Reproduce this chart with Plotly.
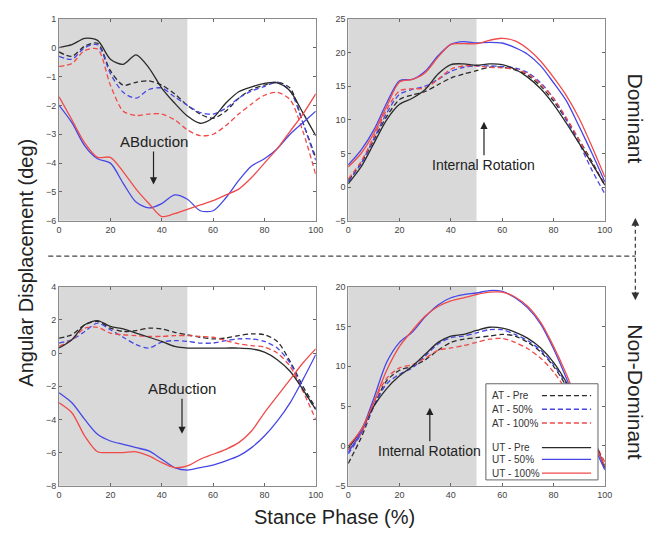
import plotly.graph_objects as go

# ---------------- data ----------------
X = [0, 5, 10, 15, 20, 25, 30, 35, 40, 45, 50, 55, 60, 65, 70, 75, 80, 85, 90, 95, 100]
SERIES = ["AT - Pre", "AT - 50%", "AT - 100%", "UT - Pre", "UT - 50%", "UT - 100%"]

# Dominant - abduction (top-left)
dom_abd_at_pre = [-0.15, -0.3, 0.05, 0.15, -0.8, -1.3, -1.2, -1.15, -1.3, -1.6, -2.0, -2.3, -2.45, -2.2, -1.75, -1.45, -1.3, -1.2, -1.4, -2.6, -3.8]
dom_abd_at_50 = [-0.3, -0.4, 0.0, 0.1, -0.9, -1.55, -1.75, -1.45, -1.4, -1.7, -2.0, -2.25, -2.3, -2.1, -1.75, -1.5, -1.35, -1.2, -1.5, -2.6, -3.9]
dom_abd_at_100 = [-0.65, -0.55, -0.1, -0.05, -1.3, -2.2, -2.35, -2.3, -2.3, -2.5, -2.85, -3.05, -3.0, -2.7, -2.3, -1.95, -1.65, -1.55, -1.8, -2.9, -4.4]
dom_abd_ut_pre = [0.0, 0.1, 0.32, 0.25, -0.4, -0.58, -0.25, -0.7, -1.4, -1.92, -2.37, -2.62, -2.43, -1.92, -1.53, -1.36, -1.24, -1.22, -1.5, -2.26, -3.05]
dom_abd_ut_50 = [-2.0, -2.6, -3.4, -3.85, -4.0, -4.7, -5.35, -5.55, -5.4, -5.1, -5.25, -5.65, -5.65, -5.2, -4.6, -4.1, -3.85, -3.5, -3.0, -2.6, -2.2]
dom_abd_ut_100 = [-1.7, -2.5, -3.3, -3.8, -3.8, -4.3, -4.9, -5.4, -5.85, -5.75, -5.6, -5.45, -5.3, -5.1, -4.9, -4.5, -4.0, -3.5, -2.9, -2.3, -1.6]

# Dominant - internal rotation (top-right)
dom_rot_at_pre = [1.0, 3.5, 7.0, 10.5, 13.0, 13.7, 14.2, 15.2, 16.2, 16.8, 17.3, 17.8, 17.8, 17.4, 16.6, 15.0, 12.8, 10.0, 7.0, 3.8, 0.2]
dom_rot_at_50 = [0.8, 3.5, 7.2, 11.0, 13.8, 14.5, 15.0, 16.0, 17.2, 17.8, 18.0, 18.0, 17.9, 17.7, 17.0, 15.5, 13.2, 10.0, 6.5, 2.5, -1.0]
dom_rot_at_100 = [1.2, 3.8, 7.5, 11.5, 14.3, 14.6, 14.7, 16.0, 17.5, 18.0, 18.0, 17.8, 17.7, 17.5, 16.8, 15.3, 13.2, 10.3, 7.0, 3.5, 0.5]
dom_rot_ut_pre = [0.5, 3.0, 6.5, 10.0, 12.3, 13.2, 14.5, 16.8, 18.2, 18.3, 18.1, 18.3, 18.2, 17.5, 16.3, 14.6, 12.3, 9.5, 6.5, 3.5, 0.3]
dom_rot_ut_50 = [3.3, 5.5, 8.5, 12.5, 15.8, 16.0, 17.2, 19.5, 21.2, 21.6, 21.4, 21.5, 21.4, 20.7, 19.7, 18.0, 15.5, 12.8, 9.0, 5.0, 0.8]
dom_rot_ut_100 = [3.0, 5.0, 8.0, 12.0, 15.6, 16.0, 17.0, 19.3, 21.2, 21.3, 21.3, 21.8, 22.1, 21.7, 20.5, 18.7, 16.3, 13.6, 10.2, 6.0, 1.5]

# Non-dominant - abduction (bottom-left)
nd_abd_at_pre = [0.9, 1.1, 1.7, 1.9, 1.5, 1.3, 1.35, 1.5, 1.45, 1.25, 1.1, 0.95, 0.85, 0.9, 1.05, 1.15, 1.1, 0.7, -0.5, -2.0, -3.3]
nd_abd_at_50 = [0.6, 0.8, 1.3, 1.8, 1.4, 0.95, 0.5, 0.3, 0.65, 0.75, 0.7, 0.6, 0.6, 0.75, 0.85, 0.85, 0.7, 0.3, -0.6, -2.2, -3.4]
nd_abd_at_100 = [0.4, 0.8, 1.5, 1.55, 1.2, 1.1, 1.05, 1.0, 1.0, 1.05, 1.05, 1.0, 0.95, 0.75, 0.55, 0.45, 0.35, 0.0, -0.8, -2.3, -4.0]
nd_abd_ut_pre = [0.3, 0.8, 1.7, 1.95, 1.6, 1.45, 1.2, 0.95, 0.7, 0.4, 0.3, 0.3, 0.3, 0.3, 0.3, 0.25, 0.05, -0.4, -1.1, -2.2, -3.4]
nd_abd_ut_50 = [-2.4, -3.0, -4.0, -4.9, -5.3, -5.5, -5.7, -5.9, -6.4, -6.9, -7.05, -6.9, -6.75, -6.5, -6.2, -5.7, -5.0, -4.1, -3.0, -1.6, -0.1]
nd_abd_ut_100 = [-3.0, -3.6, -5.0, -5.95, -6.0, -6.0, -5.95, -6.2, -6.6, -6.9, -6.8, -6.4, -6.1, -5.8, -5.4, -4.7, -3.6, -2.6, -1.6, -0.6, 0.25]

# Non-dominant - internal rotation (bottom-right)
nd_rot_at_pre = [-2.2, 1.0, 5.0, 8.2, 9.5, 10.0, 10.8, 12.0, 13.0, 13.4, 13.6, 13.8, 14.0, 13.8, 13.0, 11.8, 10.0, 7.5, 4.5, 1.0, -2.5]
nd_rot_at_50 = [-1.0, 1.5, 5.0, 7.8, 9.0, 9.8, 11.3, 12.8, 13.6, 13.8, 14.2, 14.6, 14.6, 14.0, 13.2, 12.0, 10.2, 7.8, 4.8, 1.2, -2.8]
nd_rot_at_100 = [-0.5, 1.5, 5.5, 8.5, 9.8, 10.2, 11.0, 12.0, 12.3, 12.6, 13.0, 13.4, 13.5, 13.0, 12.2, 11.0, 9.3, 7.0, 4.2, 1.0, -2.0]
nd_rot_ut_pre = [-0.3, 2.0, 5.0, 7.2, 8.8, 10.0, 11.5, 13.0, 13.8, 14.0, 14.5, 14.9, 14.8, 14.3, 13.5, 12.3, 10.5, 8.0, 5.0, 1.5, -2.8]
nd_rot_ut_50 = [-0.8, 1.8, 6.0, 10.5, 13.0, 14.3, 16.2, 17.7, 18.6, 19.0, 19.2, 19.5, 19.4, 18.6, 17.3, 15.3, 12.2, 8.5, 4.5, 0.5, -3.0]
nd_rot_ut_100 = [0.0, 2.0, 5.5, 9.5, 12.5, 14.5, 16.3, 17.5, 18.2, 18.6, 19.0, 19.3, 19.3, 18.7, 17.5, 15.5, 12.5, 9.0, 5.0, 1.0, -2.5]

X_TICKS = [0, 20, 40, 60, 80, 100]
Y_TICKS_TL = [-6, -5, -4, -3, -2, -1, 0, 1]
Y_TICKS_TR = [-5, 0, 5, 10, 15, 20, 25]
Y_TICKS_BL = [-8, -6, -4, -2, 0, 2, 4]
Y_TICKS_BR = [-5, 0, 5, 10, 15, 20]

# ---------------- styling ----------------
W, H = 665, 533
def px(x):
    return x / W
def py(y):
    return 1 - y / H

BLACK = "#2a2a2a"
BLUE = "#4646e6"
RED = "#f04a4a"
COLORS = [BLACK, BLUE, RED, BLACK, BLUE, RED]
DASHES = ["5px,3px", "5px,3px", "5px,3px", "solid", "solid", "solid"]
FONT = "Arial, Liberation Sans, sans-serif"

panels = [
    ("x", "y", [dom_abd_at_pre, dom_abd_at_50, dom_abd_at_100, dom_abd_ut_pre, dom_abd_ut_50, dom_abd_ut_100]),
    ("x2", "y2", [dom_rot_at_pre, dom_rot_at_50, dom_rot_at_100, dom_rot_ut_pre, dom_rot_ut_50, dom_rot_ut_100]),
    ("x3", "y3", [nd_abd_at_pre, nd_abd_at_50, nd_abd_at_100, nd_abd_ut_pre, nd_abd_ut_50, nd_abd_ut_100]),
    ("x4", "y4", [nd_rot_at_pre, nd_rot_at_50, nd_rot_at_100, nd_rot_ut_pre, nd_rot_ut_50, nd_rot_ut_100]),
]

fig = go.Figure()
for xa, ya, data in panels:
    for name, ys, c, d in zip(SERIES, data, COLORS, DASHES):
        fig.add_trace(go.Scatter(
            x=X, y=ys, xaxis=xa, yaxis=ya, mode="lines", name=name,
            line=dict(color=c, width=1.3, dash=d, shape="spline", smoothing=0.8),
            showlegend=False, hoverinfo="skip"))

# domains
xl = [px(57), px(318)]
xr = [px(351), px(612)]
yt = [py(220), py(14)]
yb = [py(490), py(287)]

def xax(dom, anchor):
    return dict(domain=dom, anchor=anchor, range=[0, 100], tickvals=X_TICKS,
                ticks="inside", ticklen=3, tickcolor="#666", mirror="allticks",
                showline=True, linecolor="#8a8a8a", linewidth=1, showgrid=False,
                zeroline=False, tickfont=dict(size=9, color="#444", family=FONT))

def yax(dom, anchor, rng, tv):
    return dict(domain=dom, anchor=anchor, range=rng, tickvals=tv,
                ticks="inside", ticklen=3, tickcolor="#666", mirror="allticks",
                showline=True, linecolor="#8a8a8a", linewidth=1, showgrid=False,
                zeroline=False, tickfont=dict(size=9, color="#444", family=FONT))

shapes = []
for xa, ya in [("x", "y"), ("x2", "y2"), ("x3", "y3"), ("x4", "y4")]:
    shapes.append(dict(type="rect", xref=xa, yref=ya + " domain", x0=0, x1=50, y0=0, y1=1,
                       fillcolor="#d9d9d9", line=dict(width=0), layer="below"))

# divider line and vertical double arrow
shapes.append(dict(type="line", xref="paper", yref="paper", x0=px(46), x1=px(643),
                   y0=py(256), y1=py(256), line=dict(color="#444", width=1.3, dash="5px,3px")))
shapes.append(dict(type="line", xref="paper", yref="paper", x0=px(643), x1=px(643),
                   y0=py(222), y1=py(296), line=dict(color="#444", width=1.3, dash="4px,3px")))

# custom legend (text left, sample right)
shapes.append(dict(type="rect", xref="paper", yref="paper", x0=px(491), x1=px(605),
                   y0=py(484), y1=py(386), fillcolor="white",
                   line=dict(color="#666", width=1), layer="above"))
legend_y = [398, 412, 426, 451, 463, 477]
annotations = []
for name, c, d, yy in zip(SERIES, COLORS, DASHES, legend_y):
    shapes.append(dict(type="line", xref="paper", yref="paper", x0=px(548), x1=px(598),
                       y0=py(yy), y1=py(yy), line=dict(color=c, width=1.3, dash=d), layer="above"))
    annotations.append(dict(xref="paper", yref="paper", x=px(495), y=py(yy), text=name,
                            showarrow=False, xanchor="left", yanchor="middle",
                            font=dict(size=10, color="#333", family=FONT)))

# arrowheads for the divider double arrow
annotations.append(dict(xref="paper", yref="paper", x=px(643), y=py(217), text="",
                        showarrow=True, ax=0, ay=10, arrowhead=2, arrowsize=1.2,
                        arrowwidth=1.3, arrowcolor="#333"))
annotations.append(dict(xref="paper", yref="paper", x=px(643), y=py(301), text="",
                        showarrow=True, ax=0, ay=-10, arrowhead=2, arrowsize=1.2,
                        arrowwidth=1.3, arrowcolor="#333"))

# in-panel labels with arrows
annotations += [
    dict(xref="x", yref="y", x=36.8, y=-4.74, text="ABduction", showarrow=True,
         ax=0, ay=-43, arrowhead=2, arrowsize=1.2, arrowwidth=1.2, arrowcolor="#222",
         font=dict(size=15, color="#222", family=FONT)),
    dict(xref="x3", yref="y3", x=47.9, y=-4.87, text="ABduction", showarrow=True,
         ax=0, ay=-45, arrowhead=2, arrowsize=1.2, arrowwidth=1.2, arrowcolor="#222",
         font=dict(size=15, color="#222", family=FONT)),
    dict(xref="x2", yref="y2", x=52.9, y=9.7, text="Internal Rotation", showarrow=True,
         ax=0, ay=43, arrowhead=2, arrowsize=1.2, arrowwidth=1.2, arrowcolor="#222",
         font=dict(size=14, color="#222", family=FONT)),
    dict(xref="x4", yref="y4", x=31.8, y=4.8, text="Internal Rotation", showarrow=True,
         ax=0, ay=43, arrowhead=2, arrowsize=1.2, arrowwidth=1.2, arrowcolor="#222",
         font=dict(size=14, color="#222", family=FONT)),
]

# titles
TITLE_FONT = dict(size=20, color="#222", family=FONT)
SIDE_FONT = dict(size=21, color="#222", family=FONT)
annotations += [
    dict(xref="paper", yref="paper", x=px(23), y=py(263), text="Angular Displacement (deg)",
         showarrow=False, textangle=-90, xanchor="center", yanchor="middle", font=TITLE_FONT),
    dict(xref="paper", yref="paper", x=px(337), y=py(522), text="Stance Phase (%)",
         showarrow=False, xanchor="center", yanchor="middle", font=TITLE_FONT),
    dict(xref="paper", yref="paper", x=px(643), y=py(116), text="Dominant",
         showarrow=False, textangle=90, xanchor="center", yanchor="middle", font=SIDE_FONT),
    dict(xref="paper", yref="paper", x=px(643), y=py(395), text="Non-Dominant",
         showarrow=False, textangle=90, xanchor="center", yanchor="middle", font=SIDE_FONT),
]

fig.update_layout(
    width=W, height=H, margin=dict(l=0, r=0, t=0, b=0),
    paper_bgcolor="white", plot_bgcolor="white", showlegend=False,
    font=dict(family=FONT),
    xaxis=xax(xl, "y"), yaxis=yax(yt, "x", [-6, 1], Y_TICKS_TL),
    xaxis2=xax(xr, "y2"), yaxis2=yax(yt, "x2", [-5, 25], Y_TICKS_TR),
    xaxis3=xax(xl, "y3"), yaxis3=yax(yb, "x3", [-8, 4], Y_TICKS_BL),
    xaxis4=xax(xr, "y4"), yaxis4=yax(yb, "x4", [-5, 20], Y_TICKS_BR),
    shapes=shapes, annotations=annotations,
)

fig.write_html(
    "out.html",
    config={"displayModeBar": False},
    post_script="document.body.style.margin='0';document.body.style.overflow='hidden';",
)
